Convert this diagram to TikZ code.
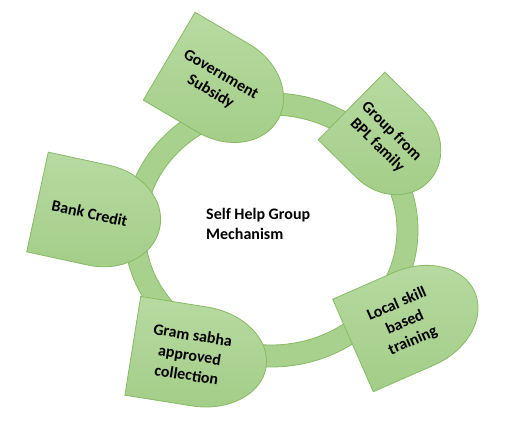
\documentclass[tikz,border=0pt]{standalone}
\usepackage{fontspec}
\setmainfont{Carlito}
\definecolor{ringfill}{HTML}{A9D18E}
\definecolor{shapetop}{HTML}{B7DAA1}
\definecolor{shapebot}{HTML}{A3CD87}
\definecolor{edgegreen}{HTML}{86BB63}
\newcommand\delayshape[7]{%
  % #1 name, #2 x, #3 y, #4 rotation, #5 length, #6 height, #7 text
  \begin{scope}[shift={(#2,#3)},rotate=#4]
    \path[delaybox] (0,-#6/2) -- (0,#6/2) -- (#5/2,#6/2)
      arc[start angle=90,end angle=-90,x radius=#5/2,y radius=#6/2] -- cycle;
    \node[labeltext,rotate=#4] (#1) at (0.427*#5,0) {#7};
  \end{scope}}
\begin{document}
\begin{tikzpicture}[x=1pt,y=1pt,
  ringstyle/.style={fill=ringfill,draw=edgegreen,line width=0.8pt,even odd rule},
  delaybox/.style={top color=shapetop,bottom color=shapebot,draw=edgegreen,line width=0.8pt},
  labeltext/.style={align=center,inner sep=0pt,font=\bfseries\fontsize{16}{20}\selectfont,text=black}]
\useasboundingbox (0,0) rectangle (512,421);
\fill[white] (0,0) rectangle (512,421);
% ring
\path[ringstyle] (271,191) ellipse[x radius=147,y radius=137]
                 (271,191) ellipse[x radius=126,y radius=115];
% centre text
\node[align=left,inner sep=0pt,font=\bfseries\fontsize{16}{20}\selectfont,anchor=west] (centre) at (206,197.5) {Self Help Group\\Mechanism};
% shapes
\delayshape{gov}{169.2}{364.8}{-30.5}{126}{102}{Government\\Subsidy}
\delayshape{bpl}{351.5}{315}{-44.6}{108}{95}{Group from\\BPL family}
\delayshape{bank}{37.5}{219}{-12.2}{125}{102}{Bank Credit}
\delayshape{local}{353}{75.5}{23.7}{133}{101}{Local skill\\based\\training}
\delayshape{gram}{132.8}{75.2}{-9.1}{135}{100}{Gram sabha\\approved\\collection}
\end{tikzpicture}
\end{document}
